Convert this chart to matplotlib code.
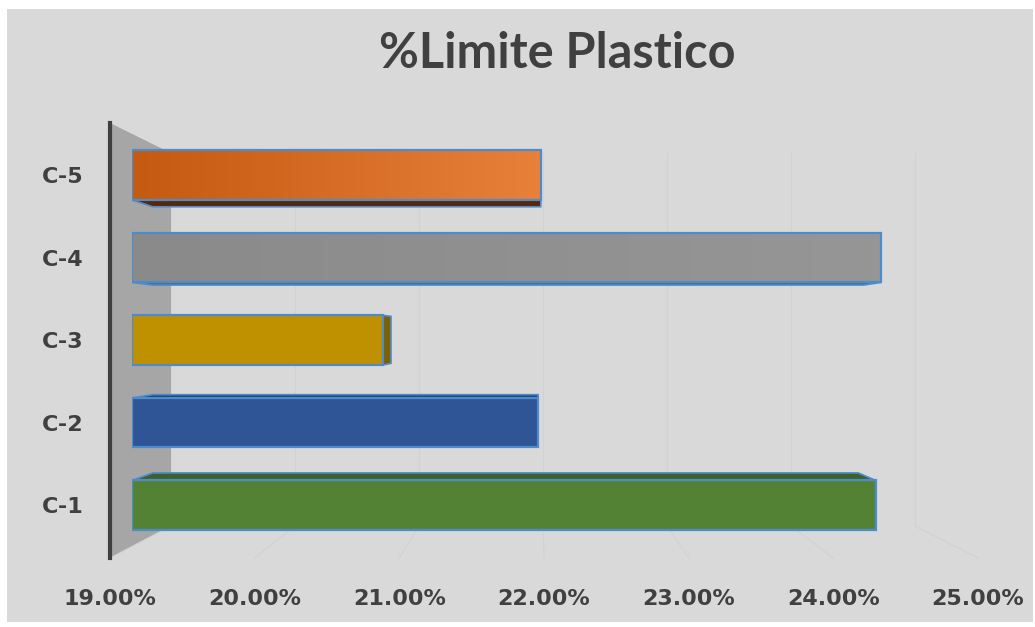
import numpy as np
import matplotlib
matplotlib.use("Agg")
import matplotlib.pyplot as plt
from matplotlib.patches import Polygon, Rectangle
from matplotlib.colors import LinearSegmentedColormap

# ---- data -------------------------------------------------------------
categories = ["C-1", "C-2", "C-3", "C-4", "C-5"]
limite_plastico = [24.42, 21.96, 20.83, 24.46, 21.98]   # percent
x_ticks = [19, 20, 21, 22, 23, 24, 25]
x_min, x_max = 19, 25

# ---- style ------------------------------------------------------------
front_left = ["#548235", "#2f5597", "#bf9000", "#8a8a8a", "#c55a11"]
front_right = ["#548235", "#2f5597", "#bf9000", "#969696", "#e8803a"]
depth_color = ["#3f6127", "#223f70", "#7f6000", "#5f5f5f", "#5a2608"]
edge_color = "#4d8ccc"
text_color = "#404040"
bg_color = "#d9d9d9"
grid_color = "#d2d2d2"

W, H = 1035, 627
DPI = 100

# 3-D box geometry (pixels, origin top-left)
FRONT_LEFT, FRONT_RIGHT = 110, 978
FRONT_TOP, FRONT_BOTTOM = 123, 558
VP = (537.0, 334.0)          # vanishing point
SHRINK = 0.143               # scale loss from front to back of the box
BAR_T0, BAR_T1 = 0.36, 0.70  # bar depth range inside the box
BAR_HEIGHT = 0.6


def project(px, py, t):
    k = 1 - SHRINK * t
    return VP[0] + k * (px - VP[0]), VP[1] + k * (py - VP[1])


def fig_rect(left, top, right, bottom):
    return [left / W, 1 - bottom / H, (right - left) / W, (bottom - top) / H]


fig = plt.figure(figsize=(W / DPI, H / DPI), dpi=DPI)
fig.patch.set_facecolor("white")

# ---- scene layer: chart area, side wall, back wall and floor ----------
scene = fig.add_axes([0, 0, 1, 1], zorder=0)
scene.set_xlim(0, W)
scene.set_ylim(H, 0)
scene.axis("off")
scene.add_patch(Rectangle((7, 9), 1026, 613, facecolor=bg_color, edgecolor="none"))

wall = [project(FRONT_LEFT, FRONT_TOP, 0), project(FRONT_LEFT, FRONT_TOP, 1),
        project(FRONT_LEFT, FRONT_BOTTOM, 1), project(FRONT_LEFT, FRONT_BOTTOM, 0)]
scene.add_patch(Polygon(wall, closed=True, facecolor="#a6a6a6", edgecolor="none"))

step = (FRONT_RIGHT - FRONT_LEFT) / (x_max - x_min)
for v in x_ticks:
    px = FRONT_LEFT + (v - x_min) * step
    bx0, by0 = project(px, FRONT_TOP, 1)
    bx1, by1 = project(px, FRONT_BOTTOM, 1)
    fx0, fy0 = project(px, FRONT_BOTTOM, 0)
    if v > x_min:
        scene.plot([bx0, bx1], [by0, by1], color=grid_color, lw=0.8)
    scene.plot([fx0, bx1], [fy0, by1], color=grid_color, lw=0.8)

# ---- front frame: value axis and vertical axis line --------------------
frame = fig.add_axes(fig_rect(FRONT_LEFT, FRONT_TOP, FRONT_RIGHT, FRONT_BOTTOM), zorder=1)
frame.set_facecolor("none")
frame.set_xlim(x_min, x_max)
frame.set_ylim(0, 1)
for side in ("top", "right", "bottom"):
    frame.spines[side].set_visible(False)
frame.spines["left"].set_color(text_color)
frame.spines["left"].set_linewidth(3)
frame.set_yticks([])
frame.set_xticks(x_ticks)
frame.set_xticklabels([f"{v:.2f}%" for v in x_ticks], fontsize=16, fontweight="bold",
                      color=text_color, family="DejaVu Sans")
frame.tick_params(axis="x", length=0, pad=22)

# ---- bars ---------------------------------------------------------------
bl, bt = project(FRONT_LEFT, FRONT_TOP, BAR_T0)
br, bb = project(FRONT_RIGHT, FRONT_BOTTOM, BAR_T0)
ax = fig.add_axes(fig_rect(bl, bt, br, bb), zorder=2)
ax.set_facecolor("none")
ax.set_xlim(x_min, x_max)
ax.set_ylim(-0.5, len(categories) - 0.5)
for s in ax.spines.values():
    s.set_visible(False)
ax.set_xticks([])
y = np.arange(len(categories))
ax.set_yticks(y)
ax.set_yticklabels(categories, fontsize=16, fontweight="bold", color=text_color,
                   family="DejaVu Sans")
ax.tick_params(axis="y", length=0, pad=35)

# vanishing point in bar coordinates and the back-face scale
inv = ax.transData.inverted()
vx, vy = inv.transform((VP[0], H - VP[1]))
ratio = (1 - SHRINK * BAR_T1) / (1 - SHRINK * BAR_T0)


def to_back(p):
    return (vx + ratio * (p[0] - vx), vy + ratio * (p[1] - vy))


h = BAR_HEIGHT / 2
widths = [v - x_min for v in limite_plastico]
bars = ax.barh(y, widths, left=x_min, height=BAR_HEIGHT, color=front_left,
               edgecolor="none", zorder=3)

for i, (bar, v) in enumerate(zip(bars, limite_plastico)):
    fl_b, fr_b = (x_min, i - h), (v, i - h)
    fr_t, fl_t = (v, i + h), (x_min, i + h)
    faces = []
    if i + h < vy:
        faces.append([fl_t, fr_t, to_back(fr_t), to_back(fl_t)])
    if i - h > vy:
        faces.append([fl_b, fr_b, to_back(fr_b), to_back(fl_b)])
    if v < vx:
        faces.append([fr_b, fr_t, to_back(fr_t), to_back(fr_b)])
    for f in faces:
        ax.add_patch(Polygon(f, closed=True, facecolor=depth_color[i],
                             edgecolor=edge_color, lw=1.2, zorder=2))
    cmap = LinearSegmentedColormap.from_list(f"g{i}", [front_left[i], front_right[i]])
    im = ax.imshow(np.linspace(0, 1, 64).reshape(1, -1), cmap=cmap, aspect="auto",
                   extent=[x_min, v, i - h, i + h], zorder=3.5, interpolation="bilinear")
    im.set_clip_path(bar)

ax.barh(y, widths, left=x_min, height=BAR_HEIGHT, facecolor="none",
        edgecolor=edge_color, linewidth=1.6, zorder=4)
ax.set_xlim(x_min, x_max)
ax.set_ylim(-0.5, len(categories) - 0.5)

fig.text(557 / W, 1 - 53 / H, "%Limite Plastico", ha="center", va="center",
         fontsize=35, fontweight="bold", color=text_color, family=["Lato", "DejaVu Sans"])

fig.savefig("out.png", dpi=DPI, facecolor=fig.get_facecolor())
